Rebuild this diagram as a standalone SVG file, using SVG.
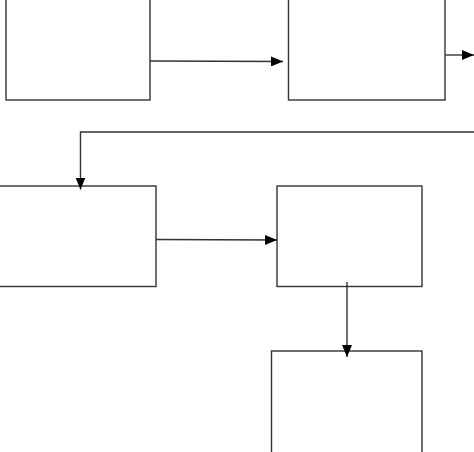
<svg xmlns="http://www.w3.org/2000/svg" width="474" height="452" viewBox="0 0 474 452">
<style>
.box{fill:#fff;stroke:#333;stroke-width:1.4}
.con{fill:none;stroke:#333;stroke-width:1.4}
</style>
<defs>
<marker id="ah" viewBox="0 0 12 10" refX="12" refY="5" markerWidth="12" markerHeight="10" markerUnits="userSpaceOnUse" orient="auto">
<path d="M0,0 L12,5 L0,10 Z" fill="#000"/>
</marker>
</defs>
<rect width="474" height="452" fill="#fff"/>
<g id="node-a"><rect class="box" x="6" y="-10" width="144" height="110"/></g>
<g id="node-b"><rect class="box" x="288.5" y="-10" width="156.5" height="110"/></g>
<g id="node-c"><rect class="box" x="-5" y="186" width="161" height="100.5"/></g>
<g id="node-d"><rect class="box" x="277" y="186" width="145" height="100.5"/></g>
<g id="node-e"><rect class="box" x="271.5" y="351" width="150.5" height="110"/></g>
<g id="connectors">
<path class="con" d="M150,61 L283,61.5" marker-end="url(#ah)"/>
<path class="con" d="M445,55 L474,55" marker-end="url(#ah)"/>
<path class="con" d="M474,132 L80.5,132 L80.5,189.5" marker-end="url(#ah)"/>
<path class="con" d="M156,239.5 L277,240" marker-end="url(#ah)"/>
<path class="con" d="M347,282 L347,357" marker-end="url(#ah)"/>
</g>
</svg>
